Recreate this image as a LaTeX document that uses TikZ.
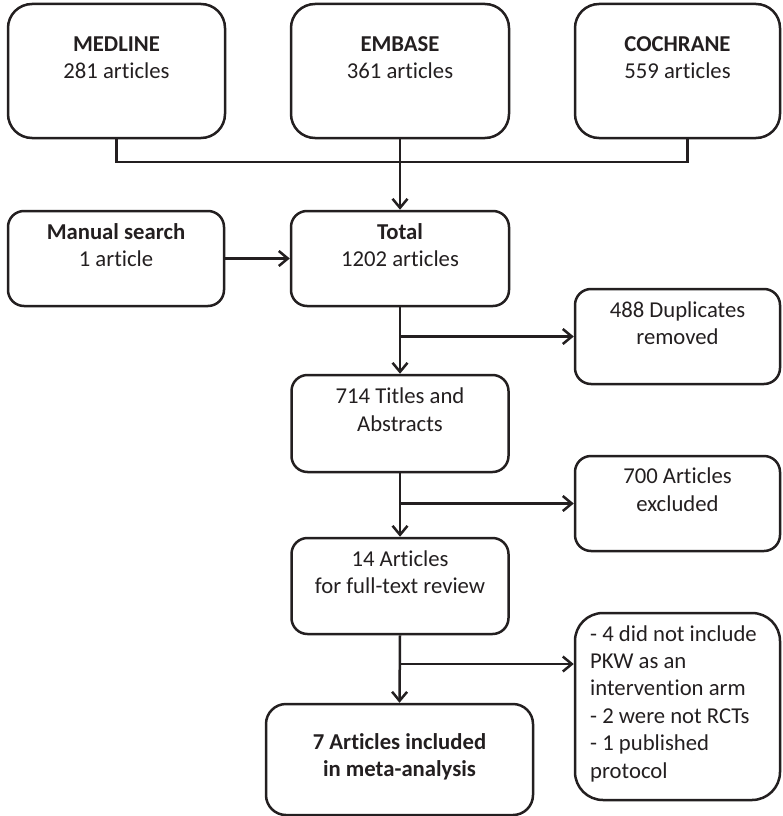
\documentclass[tikz,border=0pt]{standalone}
\usepackage{fontspec}
\setmainfont{Carlito}[RawFeature={-liga;-clig;-calt}]
\usetikzlibrary{arrows.meta}
\definecolor{ink}{HTML}{231F20}
\tikzset{
  box/.style={draw=ink, line width=2.5pt, rounded corners=16pt, inner sep=0pt},
  topbox/.style={box, rounded corners=24pt},
  txt/.style={text=ink, font=\fontsize{22.7}{27.4}\selectfont, align=center, inner sep=0pt},
  conn/.style={draw=ink, line width=2.5pt},
  arr/.style={conn, -{Straight Barb[length=9pt,width=15pt]}}
}
\begin{document}
\begin{tikzpicture}[x=1pt,y=-1pt]
\useasboundingbox (0,0) rectangle (782,816);
% top sources
\node[topbox, minimum width=217pt, minimum height=134pt] (medline) at (116.5,71) {};
\node[topbox, minimum width=218pt, minimum height=134pt] (embase) at (400,71) {};
\node[topbox, minimum width=205pt, minimum height=134pt] (cochrane) at (677.5,71) {};
\node[txt] (medlinet) at ([yshift=-55pt]medline.north) {\textbf{MEDLINE}\\281 articles};
\node[txt] (embaset) at ([yshift=-55pt]embase.north) {\textbf{EMBASE}\\361 articles};
\node[txt] (cochranet) at ([yshift=-55pt]cochrane.north) {\textbf{COCHRANE}\\559 articles};
% second row
\node[box, minimum width=216pt, minimum height=95pt] (manual) at (116,258.5) {};
\node[box, minimum width=218pt, minimum height=95pt] (total) at (400,258.5) {};
\node[txt] (manualt) at ([yshift=-35.5pt]manual.north) {\textbf{Manual search}\\1 article};
\node[txt] (totalt) at ([yshift=-35.5pt]total.north) {\textbf{Total}\\1202 articles};
% duplicates
\node[box, minimum width=205pt, minimum height=95pt] (dup) at (677.5,336.5) {};
\node[txt] (dupt) at ([yshift=-35.5pt]dup.north) {488 Duplicates\\removed};
% titles and abstracts
\node[box, minimum width=217pt, minimum height=97pt] (tiab) at (400,423.5) {};
\node[txt] (tiabt) at ([yshift=-36pt]tiab.north) {714 Titles and\\Abstracts};
% excluded
\node[box, minimum width=205pt, minimum height=95pt] (excl) at (677.5,503.5) {};
\node[txt] (exclt) at ([yshift=-35pt]excl.north) {700 Articles\\excluded};
% full text
\node[box, minimum width=217pt, minimum height=96pt] (full) at (400,586) {};
\node[txt] (fullt) at ([yshift=-35.5pt]full.north) {14 Articles\\for full-text review};
% reasons
\node[box, rounded corners=28pt, minimum width=205pt, minimum height=187pt] (reasons) at (677.5,706.5) {};
\node[txt, align=left, anchor=west] (reasonst) at (590,703.5) {- 4 did not include\\PKW as an\\intervention arm\\- 2 were not RCTs\\- 1 published\\protocol};
% included
\node[box, rounded corners=20pt, minimum width=267pt, minimum height=111pt] (inc) at (399.5,759.5) {};
\node[txt] (inct) at ([yshift=-54pt]inc.north) {\textbf{7 Articles included}\\\textbf{in meta-analysis}};
% connectors
\coordinate (jn) at (400,162);
\draw[conn] (medline.south) |- (jn) -| ([xshift=10pt]cochrane.south);
\draw[arr] (embase.south) -- (total.north);
\draw[arr] (manual.east) -- (total.west);
\draw[arr] (total.south) -- (tiab.north);
\draw[arr] (total.south |- dup.west) -- (dup.west);
\draw[arr] (tiab.south) -- (full.north);
\draw[arr] (tiab.south |- excl.west) -- (excl.west);
\draw[arr] (full.south) -- (inc.north);
\coordinate (rsn) at (reasons.west |- 0,664);
\draw[arr] (full.south |- rsn) -- (rsn);
\end{tikzpicture}
\end{document}
